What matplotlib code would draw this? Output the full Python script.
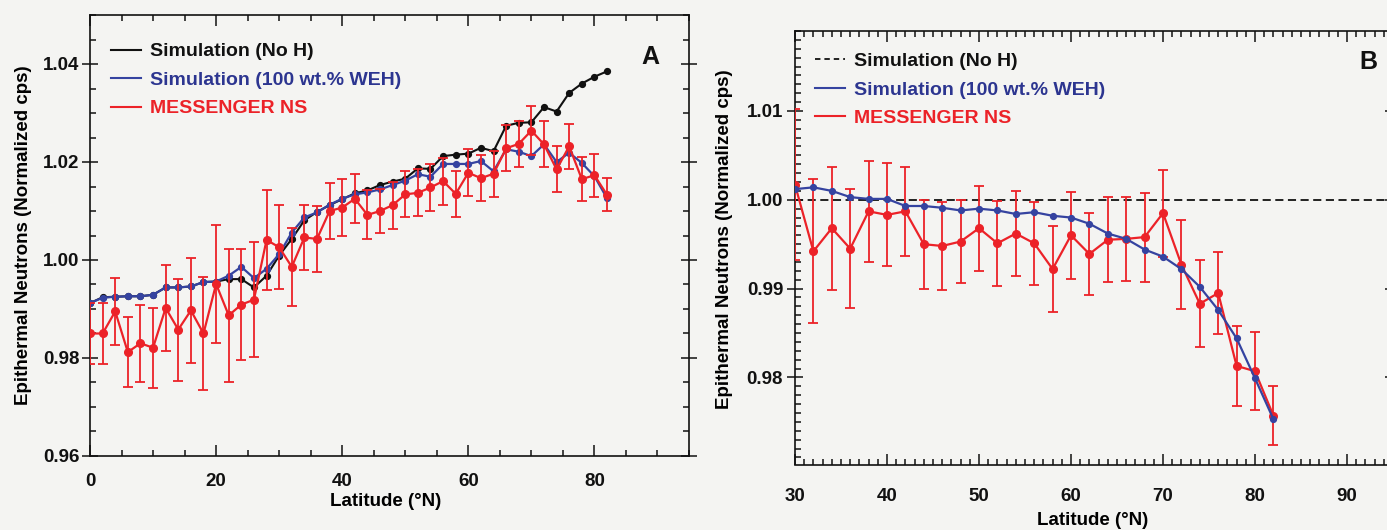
import matplotlib
matplotlib.use("Agg")
import matplotlib.pyplot as plt
from matplotlib.ticker import MultipleLocator, FixedLocator, FormatStrFormatter
from matplotlib.lines import Line2D

plt.rcParams['font.family'] = ['Liberation Sans', 'DejaVu Sans']
plt.rcParams['font.weight'] = 'bold'

# ---------------- data ----------------
series_labels = ["Simulation (No H)", "Simulation (100 wt.% WEH)", "MESSENGER NS"]

lat_a = list(range(0, 84, 2))
noh_a = [0.9912, 0.9924, 0.9925, 0.9926, 0.9926, 0.9929, 0.9944, 0.9944, 0.9946, 0.9955,
         0.9956, 0.9961, 0.9961, 0.9944, 0.9968, 1.0009, 1.0043, 1.0081, 1.0098, 1.0112,
         1.0124, 1.0136, 1.0142, 1.0153, 1.0160, 1.0166, 1.0187, 1.0186, 1.0212, 1.0215,
         1.0217, 1.0229, 1.0222, 1.0274, 1.0280, 1.0281, 1.0312, 1.0303, 1.0341, 1.0360,
         1.0374, 1.0385]
weh_a = [0.9912, 0.9923, 0.9925, 0.9926, 0.9926, 0.9929, 0.9944, 0.9944, 0.9946, 0.9955,
         0.9956, 0.9968, 0.9986, 0.9963, 0.9982, 1.0012, 1.0056, 1.0087, 1.0097, 1.0113,
         1.0125, 1.0134, 1.0138, 1.0144, 1.0153, 1.0162, 1.0175, 1.0170, 1.0196, 1.0196,
         1.0196, 1.0202, 1.0181, 1.0226, 1.0221, 1.0212, 1.0236, 1.0200, 1.0219, 1.0198,
         1.0171, 1.0126]
ns_a = [0.9850, 0.9850, 0.9895, 0.9812, 0.9830, 0.9821, 0.9902, 0.9858, 0.9897, 0.9850,
        0.9951, 0.9887, 0.9909, 0.9919, 1.0041, 1.0026, 0.9986, 1.0046, 1.0043, 1.0100,
        1.0107, 1.0125, 1.0092, 1.0100, 1.0112, 1.0134, 1.0137, 1.0148, 1.0161, 1.0135,
        1.0178, 1.0167, 1.0176, 1.0228, 1.0237, 1.0264, 1.0236, 1.0185, 1.0232, 1.0165,
        1.0173, 1.0133]
ns_err_a = [0.0063, 0.0063, 0.0068, 0.0072, 0.0078, 0.0082, 0.0088, 0.0104, 0.0107, 0.0115,
            0.0121, 0.0135, 0.0113, 0.0117, 0.0102, 0.0086, 0.0080, 0.0067, 0.0067, 0.0057,
            0.0058, 0.0050, 0.0050, 0.0045, 0.0048, 0.0047, 0.0048, 0.0048, 0.0048, 0.0047,
            0.0048, 0.0047, 0.0047, 0.0047, 0.0047, 0.0050, 0.0047, 0.0047, 0.0046, 0.0045,
            0.0044, 0.0034]

lat_b = list(range(30, 84, 2))
noh_b_level = 1.00
weh_b = [1.0012, 1.0014, 1.0010, 1.0003, 1.0001, 1.0001, 0.9993, 0.9993, 0.9991, 0.9988,
         0.9990, 0.9988, 0.9984, 0.9986, 0.9982, 0.9980, 0.9973, 0.9962, 0.9956, 0.9944,
         0.9936, 0.9922, 0.9902, 0.9876, 0.9844, 0.9799, 0.9753]
ns_b = [1.0017, 0.9942, 0.9968, 0.9945, 0.9987, 0.9983, 0.9987, 0.9950, 0.9948, 0.9953,
        0.9968, 0.9951, 0.9962, 0.9951, 0.9922, 0.9960, 0.9939, 0.9955, 0.9956, 0.9958,
        0.9985, 0.9927, 0.9883, 0.9895, 0.9813, 0.9807, 0.9757]
ns_err_b = [0.0085, 0.0081, 0.0069, 0.0067, 0.0057, 0.0058, 0.0050, 0.0050, 0.0049, 0.0047,
            0.0048, 0.0048, 0.0048, 0.0047, 0.0048, 0.0049, 0.0046, 0.0048, 0.0047, 0.0050,
            0.0049, 0.0050, 0.0049, 0.0046, 0.0045, 0.0044, 0.0033]

yticks_a = [0.96, 0.98, 1.00, 1.02, 1.04]
xticks_a = [0, 20, 40, 60, 80]
yticks_b = [0.98, 0.99, 1.00, 1.01]
xticks_b = [30, 40, 50, 60, 70, 80, 90]

# ---------------- style ----------------
BG = '#f4f4f2'
BLACK = '#111111'
BLUE = '#3543a0'
BLUE_TXT = '#2c3590'
RED = '#ec2228'
W, H = 1387, 530

fig = plt.figure(figsize=(W / 100, H / 100), dpi=100, facecolor=BG)

def frac_rect(l, t, r, b):
    return [l / W, 1 - b / H, (r - l) / W, (b - t) / H]

axA = fig.add_axes(frac_rect(90, 15, 689, 456))
axB = fig.add_axes(frac_rect(795, 31, 1393, 464.5))

for ax in (axA, axB):
    ax.set_facecolor('none')
    for s in ax.spines.values():
        s.set_linewidth(1.2)
        s.set_color(BLACK)

# ---------- Panel A ----------
axA.plot(lat_a, noh_a, color=BLACK, lw=1.5, marker='o', ms=4.2, zorder=3)
axA.plot(lat_a, weh_a, color=BLUE, lw=1.6, marker='o', ms=4.2, mfc=BLUE, mec=BLUE, zorder=4)
axA.errorbar(lat_a, ns_a, yerr=ns_err_a, color=RED, lw=1.6, marker='o', ms=5.5,
             elinewidth=1.3, capsize=3.6, capthick=1.3, zorder=5)
axA.set_xlim(0, 95)
axA.set_ylim(0.96, 1.05)
axA.xaxis.set_major_locator(FixedLocator(xticks_a))
axA.xaxis.set_minor_locator(MultipleLocator(5))
axA.yaxis.set_major_locator(FixedLocator(yticks_a))
axA.yaxis.set_minor_locator(MultipleLocator(0.005))
axA.yaxis.set_major_formatter(FormatStrFormatter('%.2f'))
axA.tick_params(axis='both', which='both', top=True, right=True, direction='in', width=1.1,
                colors=BLACK)
axA.tick_params(axis='both', which='major', length=8, labelsize=13.5)
axA.tick_params(axis='both', which='minor', length=4.5)
axA.tick_params(axis='y', which='major', left=True, direction='inout', length=11, pad=2)
axA.tick_params(axis='x', which='major', pad=12)
axA.set_xlabel("Latitude (°N)", fontsize=13.5, fontweight='bold')
axA.set_ylabel("Epithermal Neutrons (Normalized cps)", fontsize=13.5, fontweight='bold')
axA.xaxis.set_label_coords(0.494, -0.085)
axA.yaxis.set_label_coords(-0.097, 0.50)
axA.text(0.935, 0.905, "A", transform=axA.transAxes, fontsize=18, fontweight='bold',
         ha='center', va='center', color=BLACK)

handlesA = [Line2D([], [], color=BLACK, lw=1.5),
            Line2D([], [], color=BLUE, lw=1.5),
            Line2D([], [], color=RED, lw=1.5)]
legA = axA.legend(handlesA, series_labels, loc='upper left', bbox_to_anchor=(0.035, 0.937),
                  frameon=False, fontsize=14, handlelength=1.55, handletextpad=0.45,
                  labelspacing=0.56, borderpad=0, borderaxespad=0,
                  labelcolor=[BLACK, BLUE_TXT, RED])

# ---------- Panel B ----------
axB.axhline(noh_b_level, color=BLACK, lw=1.3, dashes=(4.5, 2.5), zorder=2)
axB.errorbar(lat_b, ns_b, yerr=ns_err_b, color=RED, lw=1.6, marker='o', ms=5.5,
             elinewidth=1.3, capsize=3.6, capthick=1.3, zorder=4)
axB.plot(lat_b, weh_b, color=BLUE, lw=1.6, marker='o', ms=4.2, mfc=BLUE, mec=BLUE, zorder=5)
axB.set_xlim(30, 95)
axB.set_ylim(0.9702, 1.019)
axB.xaxis.set_major_locator(FixedLocator(xticks_b))
axB.xaxis.set_minor_locator(MultipleLocator(1))
axB.yaxis.set_major_locator(FixedLocator(yticks_b))
axB.yaxis.set_minor_locator(MultipleLocator(0.001))
axB.yaxis.set_major_formatter(FormatStrFormatter('%.2f'))
axB.tick_params(axis='both', which='both', top=True, right=True, direction='in', width=1.1,
                colors=BLACK)
axB.tick_params(axis='both', which='major', length=8, labelsize=13.5)
axB.tick_params(axis='both', which='minor', length=4.5)
axB.tick_params(axis='y', which='major', left=True, direction='inout', length=11, pad=3)
axB.tick_params(axis='x', which='major', pad=17)
axB.set_xlabel("Latitude (°N)", fontsize=13.5, fontweight='bold')
axB.set_ylabel("Epithermal Neutrons (Normalized cps)", fontsize=13.5, fontweight='bold')
axB.xaxis.set_label_coords(0.497, -0.11)
axB.yaxis.set_label_coords(-0.104, 0.52)
axB.text(0.958, 0.928, "B", transform=axB.transAxes, fontsize=18, fontweight='bold',
         ha='center', va='center', color=BLACK)

handlesB = [Line2D([], [], color=BLACK, lw=1.3, dashes=(3, 2.2)),
            Line2D([], [], color=BLUE, lw=1.5),
            Line2D([], [], color=RED, lw=1.5)]
legB = axB.legend(handlesB, series_labels, loc='upper left', bbox_to_anchor=(0.033, 0.95),
                  frameon=False, fontsize=14, handlelength=1.55, handletextpad=0.45,
                  labelspacing=0.56, borderpad=0, borderaxespad=0,
                  labelcolor=[BLACK, BLUE_TXT, RED])

fig.savefig("out.png", dpi=100, facecolor=BG)
